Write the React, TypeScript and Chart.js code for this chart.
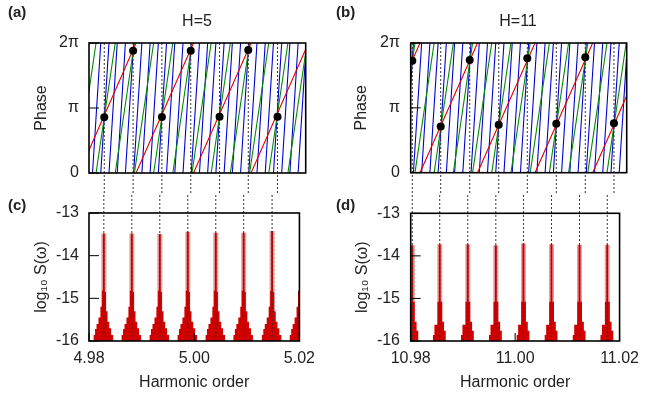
import React, { useEffect, useRef } from 'react';
import { Chart, registerables } from 'chart.js';

Chart.register(...registerables);

const FONT = "'Liberation Sans', Arial, Helvetica, sans-serif";
const TEXT = '#222';
const RED = 'rgb(228,0,0)';
const GREEN = 'rgb(0,140,0)';
const BLUE = 'rgb(0,0,210)';
const TWO_PI = 2 * Math.PI;

// ---- axes ----
const X_RANGE_A = [4.98, 5.02];
const X_RANGE_B = [10.98, 11.02];
const X_TICKS_A = [4.98, 5.0, 5.02];
const X_TICK_LABELS_A = ['4.98', '5.00', '5.02'];
const X_TICKS_B = [10.98, 11.0, 11.02];
const X_TICK_LABELS_B = ['10.98', '11.00', '11.02'];
const PHASE_TICKS = [0, Math.PI, TWO_PI];
const PHASE_TICK_LABELS = ['0', 'π', '2π'];
const SPEC_TICKS = [-16, -15, -14, -13];
const SPEC_TICK_LABELS = ['-16', '-15', '-14', '-13'];

// ---- phase panels: dots (harmonic order, phase in units of π) ----
const DOTS_X_A = [4.98282, 4.98814, 4.99346, 4.99878, 5.0041, 5.0094, 5.0148];
const DOTS_PHASE_A = [0.856, 1.88, 0.86, 1.88, 0.866, 1.892, 0.866];
const DOTS_X_B = [10.9803, 10.98556, 10.99093, 10.9963, 11.00159, 11.00696, 11.01233, 11.01764];
const DOTS_PHASE_B = [1.728, 0.714, 1.738, 0.738, 1.764, 0.754, 1.78, 0.764];

// wrapped phase lines: harmonic orders where each line starts at phase 0 (it reaches 2π at the next one)
const RED_ZEROS_A = [4.97815, 4.98868, 4.99929, 5.00991, 5.02052];
const GREEN_ZEROS_A = [4.97776, 4.9813, 4.98484, 4.98838, 4.99193, 4.99547, 4.99901, 5.00255, 5.00609, 5.00964, 5.01318, 5.01672, 5.02026];
const BLUE_ZEROS_A = [4.98065, 4.98217, 4.98369, 4.98521, 4.98672, 4.98824, 4.98976, 4.99128, 4.9928, 4.99431, 4.99583, 4.99735, 4.99887, 5.00039, 5.0019, 5.00342, 5.00494, 5.00646, 5.00798, 5.00949, 5.01101, 5.01253, 5.01405, 5.01557, 5.01708, 5.0186, 5.02012];
const RED_ZEROS_B = [10.97107, 10.98172, 10.99237, 11.00302, 11.0137, 11.02432];
const GREEN_ZEROS_B = [10.97723, 10.98079, 10.98434, 10.9879, 10.99146, 10.99501, 10.99857, 11.00213, 11.00568, 11.00924, 11.0128, 11.01635, 11.01991, 11.02347];
const BLUE_ZEROS_B = [10.97898, 10.9805, 10.98203, 10.98355, 10.98508, 10.9866, 10.98813, 10.98965, 10.99117, 10.9927, 10.99422, 10.99575, 10.99727, 10.9988, 11.00032, 11.00184, 11.00337, 11.00489, 11.00642, 11.00794, 11.00947, 11.01099, 11.01251, 11.01404, 11.01556, 11.01709, 11.01861, 11.02014];

// ---- spectra ----
const PEAKS_C = [4.98282, 4.98814, 4.99346, 4.99878, 5.0041, 5.0094, 5.0148, 5.0201];
const PEAK_TOPS_C = [-13.48, -13.48, -13.49, -13.44, -13.46, -13.46, -13.42, -13.5];
const PROFILE_OFFSETS_C = [-0.00194, -0.00167, -0.00139, -0.00102, -0.00065, -0.00037, 0.00011, 0.00041, 0.0007, 0.00102, 0.00139, 0.00176];
const PROFILE_LEVELS_C = [-15.86, -15.72, -15.6, -15.45, -15.2, -14.82, -14.85, -15.3, -15.55, -15.7, -15.86, -16.5];

const PEAKS_D = [10.9803, 10.98556, 10.99093, 10.9963, 11.00159, 11.00696, 11.01233, 11.01764];
const PEAK_TOPS_D = [-13.75, -13.73, -13.73, -13.75, -13.71, -13.73, -13.74, -13.74];
const PROFILE_OFFSETS_D = [-0.0013, -0.00102, -0.00044, 0.00048, 0.00083, 0.00115];
const PROFILE_LEVELS_D = [-15.86, -15.62, -15.08, -15.55, -15.76, -16.5];

function sawtooth(zeros: number[]) {
  const pts: any[] = [];
  for (let i = 0; i < zeros.length - 1; i++) {
    pts.push({ x: zeros[i], y: 0 }, { x: zeros[i + 1], y: TWO_PI }, { x: zeros[i + 1], y: null });
  }
  return pts;
}

function vlines(xs: number[], y0: number, y1: number | number[]) {
  const pts: any[] = [];
  xs.forEach((x, i) => {
    const top = Array.isArray(y1) ? y1[i] : y1;
    pts.push({ x, y: y0 }, { x, y: top }, { x, y: null });
  });
  return pts;
}

function spectrumSteps(peaks: number[], offs: number[], levels: number[], xr: number[]) {
  const pts: any[] = [{ x: xr[0] - 0.01, y: -17 }];
  peaks.forEach((c) => offs.forEach((o, i) => pts.push({ x: c + o, y: levels[i] })));
  pts.push({ x: xr[1] + 0.01, y: -17 });
  return pts;
}

const framePlugin = {
  id: 'frame',
  afterDatasetsDraw(chart: any) {
    const { ctx, chartArea: a } = chart;
    ctx.save();
    ctx.strokeStyle = '#000';
    ctx.lineWidth = 1;
    const ys = chart.scales.y;
    ys.ticks.forEach((t: any) => {
      const p = ys.getPixelForValue(t.value);
      ctx.beginPath();
      ctx.moveTo(a.left, p);
      ctx.lineTo(a.left + 10, p);
      ctx.stroke();
    });
    const xs = chart.scales.x;
    if (xs.options.display) {
      xs.ticks.forEach((t: any) => {
        const p = xs.getPixelForValue(t.value);
        ctx.beginPath();
        ctx.moveTo(p, a.bottom);
        ctx.lineTo(p, a.bottom - 8);
        ctx.stroke();
      });
    }
    ctx.lineWidth = 1.6;
    ctx.strokeRect(a.left, a.top, a.right - a.left, a.bottom - a.top);
    ctx.restore();
  },
};

const tickFont = { family: FONT, size: 16 };

function yAxis(min: number, max: number, ticks: number[], labels: string[], title: string, width: number, labelPad: number, titlePad: number) {
  return {
    type: 'linear',
    min,
    max,
    afterBuildTicks: (s: any) => {
      s.ticks = ticks.map((v) => ({ value: v }));
    },
    afterFit: (s: any) => {
      s.width = width;
    },
    grid: { display: false, drawTicks: false },
    border: { display: false },
    ticks: { padding: labelPad, font: tickFont, color: TEXT, autoSkip: false, callback: (_v: any, i: number) => labels[i] },
    title: { display: true, text: title, font: tickFont, color: TEXT, padding: { top: titlePad, bottom: 0 } },
  };
}

function phaseConfig(p: any) {
  return {
    type: 'line',
    data: {
      datasets: [
        {
          data: p.dotsX.map((x: number, i: number) => ({ x, y: p.dotsPhase[i] * Math.PI })),
          showLine: false,
          pointRadius: 4,
          pointBackgroundColor: '#000',
          pointBorderColor: '#000',
          pointBorderWidth: 0,
        },
        { data: vlines(p.dotsX, TWO_PI, -1.6), borderColor: '#333', borderWidth: 1, borderDash: [2, 2], pointRadius: 0, clip: false },
        { data: sawtooth(p.red), borderColor: RED, borderWidth: 1.1, pointRadius: 0 },
        { data: sawtooth(p.green), borderColor: GREEN, borderWidth: 1.1, pointRadius: 0 },
        { data: sawtooth(p.blue), borderColor: BLUE, borderWidth: 1.1, pointRadius: 0 },
      ],
    },
    options: {
      responsive: false,
      animation: false,
      events: [],
      layout: { padding: { left: 0, top: 43, right: p.padRight, bottom: 20 } },
      plugins: { legend: { display: false }, tooltip: { enabled: false } },
      scales: {
        x: { type: 'linear', display: false, min: p.xr[0], max: p.xr[1] },
        y: yAxis(0, TWO_PI, PHASE_TICKS, PHASE_TICK_LABELS, 'Phase', p.yW, p.labelPad, p.titlePad),
      },
    },
    plugins: [framePlugin],
  };
}

function specConfig(p: any) {
  return {
    type: 'line',
    data: {
      datasets: [
        { data: vlines(p.dotsX, -16, -12.3), borderColor: '#333', borderWidth: 1, borderDash: [2, 2], pointRadius: 0, clip: false },
        { data: vlines(p.peaks, -16.2, p.tops), borderColor: 'rgb(205,0,0)', borderWidth: 1.8, pointRadius: 0 },
        {
          data: spectrumSteps(p.peaks, p.offs, p.levels, p.xr),
          stepped: true,
          borderColor: 'rgba(0,0,0,0)',
          borderWidth: 0,
          backgroundColor: 'rgb(208,0,0)',
          fill: 'start',
          pointRadius: 0,
        },
        { data: vlines(p.peaks, -16.2, p.tops), borderColor: 'rgba(232,120,120,0.75)', borderWidth: 5, pointRadius: 0 },
      ],
    },
    options: {
      responsive: false,
      animation: false,
      events: [],
      layout: { padding: { left: 0, top: 20, right: p.padRight, bottom: 0 } },
      plugins: { legend: { display: false }, tooltip: { enabled: false } },
      scales: {
        x: {
          type: 'linear',
          min: p.xr[0],
          max: p.xr[1],
          afterBuildTicks: (s: any) => {
            s.ticks = p.xTicks.map((v: number) => ({ value: v }));
          },
          afterFit: (s: any) => {
            s.height = 58;
          },
          grid: { display: false, drawTicks: false },
          border: { display: false },
          ticks: { padding: 8, font: tickFont, color: TEXT, autoSkip: false, maxRotation: 0, callback: (_v: any, i: number) => p.xLabels[i] },
          title: { display: true, text: 'Harmonic order', font: tickFont, color: TEXT, padding: { top: 0, bottom: 7 } },
        },
        y: yAxis(-16, -13, SPEC_TICKS, SPEC_TICK_LABELS, 'log₁₀ S(ω)', p.yW, p.labelPad, p.titlePad),
      },
    },
    plugins: [framePlugin],
  };
}

function ChartBox({ left, top, width, height, make }: any) {
  const ref = useRef<HTMLCanvasElement>(null);
  useEffect(() => {
    const chart = new Chart(ref.current as HTMLCanvasElement, make());
    return () => chart.destroy();
  }, []);
  return <canvas ref={ref} width={width} height={height} style={{ position: 'absolute', left, top, width, height }} />;
}

const labelStyle = (x: number, top: number, bold: boolean, center: boolean): React.CSSProperties => ({
  position: 'absolute',
  left: x,
  top,
  fontFamily: FONT,
  fontSize: bold ? 15 : 16,
  fontWeight: bold ? 'bold' : 'normal',
  lineHeight: '18px',
  color: TEXT,
  whiteSpace: 'nowrap',
  transform: center ? 'translateX(-50%)' : undefined,
});

export default function App() {
  const pa = { xr: X_RANGE_A, dotsX: DOTS_X_A, dotsPhase: DOTS_PHASE_A, red: RED_ZEROS_A, green: GREEN_ZEROS_A, blue: BLUE_ZEROS_A, yW: 89, labelPad: 10, titlePad: 32, padRight: 17.3 };
  const pb = { xr: X_RANGE_B, dotsX: DOTS_X_B, dotsPhase: DOTS_PHASE_B, red: RED_ZEROS_B, green: GREEN_ZEROS_B, blue: BLUE_ZEROS_B, yW: 87.7, labelPad: 10.7, titlePad: 29.4, padRight: 20.3 };
  const pc = { xr: X_RANGE_A, dotsX: DOTS_X_A, peaks: PEAKS_C, tops: PEAK_TOPS_C, offs: PROFILE_OFFSETS_C, levels: PROFILE_LEVELS_C, xTicks: X_TICKS_A, xLabels: X_TICK_LABELS_A, yW: 89, labelPad: 10, titlePad: 32, padRight: 17.3 };
  const pd = { xr: X_RANGE_B, dotsX: DOTS_X_B, peaks: PEAKS_D, tops: PEAK_TOPS_D, offs: PROFILE_OFFSETS_D, levels: PROFILE_LEVELS_D, xTicks: X_TICKS_B, xLabels: X_TICK_LABELS_B, yW: 87.7, labelPad: 10.7, titlePad: 29.9, padRight: 20.3 };
  return (
    <div style={{ position: 'fixed', left: 0, top: 0, width: 647, height: 399, background: '#fff', overflow: 'hidden' }}>
      <ChartBox left={0} top={0} width={323} height={193} make={() => phaseConfig(pa)} />
      <ChartBox left={323} top={0} width={324} height={193} make={() => phaseConfig(pb)} />
      <ChartBox left={0} top={193} width={323} height={206} make={() => specConfig(pc)} />
      <ChartBox left={323} top={193} width={324} height={206} make={() => specConfig(pd)} />
      <div style={labelStyle(8, 2.7, true, false)}>(a)</div>
      <div style={labelStyle(336, 2.7, true, false)}>(b)</div>
      <div style={labelStyle(8, 195.7, true, false)}>(c)</div>
      <div style={labelStyle(336, 195.7, true, false)}>(d)</div>
      <div style={labelStyle(197, 11.7, false, true)}>H=5</div>
      <div style={labelStyle(518, 11.7, false, true)}>H=11</div>
    </div>
  );
}
